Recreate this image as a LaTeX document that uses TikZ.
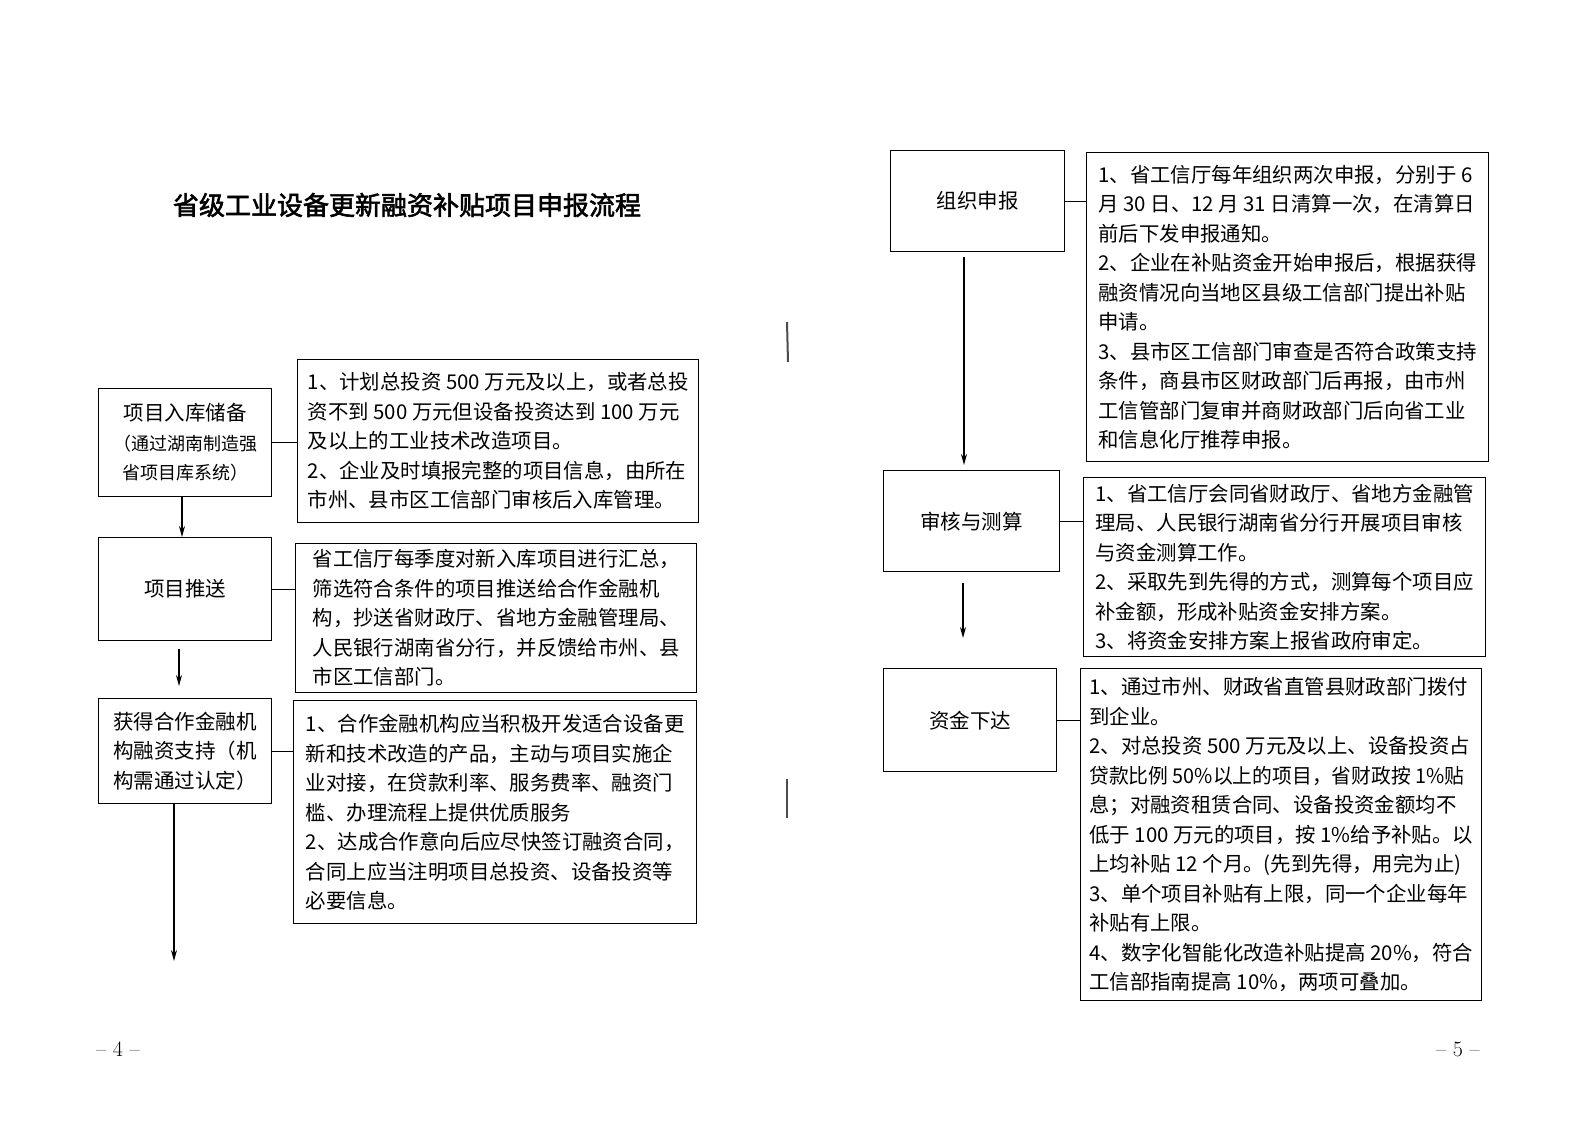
\documentclass[tikz,border=0pt]{standalone}
\usepackage{fontspec}
\newfontfamily\cjk{Noto Sans CJK SC}
\newfontfamily\cjkb[FakeBold=2.2]{Noto Sans CJK SC}
\usetikzlibrary{arrows.meta,calc}
\begin{document}
\begin{tikzpicture}[x=1pt,y=-1pt,
  stage/.style={draw, line width=1.4pt, inner sep=0pt, anchor=north west, align=center,
    font=\cjk\fontsize{20.5}{29.5}\selectfont},
  info/.style={draw, line width=1.4pt, inner sep=0pt, anchor=north west, align=left,
    font=\cjk\fontsize{20.4}{29.5}\selectfont},
  link/.style={line width=1.4pt},
  flow/.style={line width=1.4pt, -{Stealth[length=11pt,width=6pt]}},
  pagenum/.style={font=\fontsize{22}{24}\selectfont},
  scanmark/.style={line width=2pt, black!70}]
\fill[white] (0,0) rectangle (1587,1122);
\useasboundingbox (0,0) rectangle (1587,1122);

% title
\node[font=\cjkb\fontsize{26}{30}\selectfont] (title) at (407,205) {省级工业设备更新融资补贴项目申报流程};

% left column
\node[stage, minimum width=173pt, minimum height=108pt] (A) at (98,388)
  {项目入库储备\\{\fontsize{18}{29.5}\selectfont（通过湖南制造强}\\{\fontsize{18}{29.5}\selectfont 省项目库系统）}};
\node[info, minimum width=401pt, minimum height=163pt] (TA) at (297,359)
  {1、计划总投资 500 万元及以上，或者总投\\
   资不到 500 万元但设备投资达到 100 万元\\
   及以上的工业技术改造项目。\\
   2、企业及时填报完整的项目信息，由所在\\
   市州、县市区工信部门审核后入库管理。};
\node[stage, minimum width=173pt, minimum height=103pt] (B) at (98,537) {项目推送};
\node[info, minimum width=401pt, minimum height=149pt] (TB) at (295,543)
  {省工信厅每季度对新入库项目进行汇总，\\
   筛选符合条件的项目推送给合作金融机\\
   构，抄送省财政厅、省地方金融管理局、\\
   人民银行湖南省分行，并反馈给市州、县\\
   市区工信部门。};
\node[stage, minimum width=173pt, minimum height=105pt] (C) at (98,698)
  {获得合作金融机\\构融资支持（机\\构需通过认定）};
\node[info, minimum width=403pt, minimum height=223pt] (TC) at (293,700)
  {1、合作金融机构应当积极开发适合设备更\\
   新和技术改造的产品，主动与项目实施企\\
   业对接，在贷款利率、服务费率、融资门\\
   槛、办理流程上提供优质服务\\
   2、达成合作意向后应尽快签订融资合同，\\
   合同上应当注明项目总投资、设备投资等\\
   必要信息。};
\coordinate (Cend) at (174,961);

% right column
\node[stage, minimum width=174pt, minimum height=101pt] (D) at (890,150) {组织申报};
\node[info, minimum width=402pt, minimum height=309pt] (TD) at (1086,152)
  {1、省工信厅每年组织两次申报，分别于 6\\
   月 30 日、12 月 31 日清算一次，在清算日\\
   前后下发申报通知。\\
   2、企业在补贴资金开始申报后，根据获得\\
   融资情况向当地区县级工信部门提出补贴\\
   申请。\\
   3、县市区工信部门审查是否符合政策支持\\
   条件，商县市区财政部门后再报，由市州\\
   工信管部门复审并商财政部门后向省工业\\
   和信息化厅推荐申报。};
\node[stage, minimum width=176pt, minimum height=101pt] (E) at (883,470) {审核与测算};
\node[info, minimum width=402pt, minimum height=179pt] (TE) at (1083,477)
  {1、省工信厅会同省财政厅、省地方金融管\\
   理局、人民银行湖南省分行开展项目审核\\
   与资金测算工作。\\
   2、采取先到先得的方式，测算每个项目应\\
   补金额，形成补贴资金安排方案。\\
   3、将资金安排方案上报省政府审定。};
\node[stage, minimum width=173pt, minimum height=103pt] (F) at (883,668) {资金下达};
\node[info, minimum width=401pt, minimum height=332pt] (TF) at (1080,668)
  {1、通过市州、财政省直管县财政部门拨付\\
   到企业。\\
   2、对总投资 500 万元及以上、设备投资占\\
   \scalebox{0.97}[1]{贷款比例 50\%以上的项目，省财政按 1\%贴}\\
   息；对融资租赁合同、设备投资金额均不\\
   低于 100 万元的项目，按 1\%给予补贴。以\\
   上均补贴 12 个月。(先到先得，用完为止)\\
   3、单个项目补贴有上限，同一个企业每年\\
   补贴有上限。\\
   4、数字化智能化改造补贴提高 20\%，符合\\
   工信部指南提高 10\%，两项可叠加。};

% links
\draw[link] (A.east) -- (A.east -| TA.west);
\draw[link] (B.east) -- (B.east -| TB.west);
\draw[link] (C.east) -- (C.east -| TC.west);
\draw[link] (D.east) -- (D.east -| TD.west);
\draw[link] (E.east) -- (E.east -| TE.west);
\draw[link] (F.east) -- (F.east -| TF.west);

% flow arrows
\draw[flow] (A.south -| 182,0) -- (B.north -| 182,0);
\draw[flow] ($(B.south -| 179,0)+(0,8)$) -- ($(C.north -| 179,0)+(0,-12)$);
\draw[flow] (C.south -| Cend) -- (Cend);
\draw[flow] ($(D.south -| 964,0)+(0,5)$) -- ($(E.north -| 964,0)+(0,-5)$);
\draw[flow] ($(E.south -| 963,0)+(0,11)$) -- ($(F.north -| 963,0)+(0,-30)$);

% page numbers
\node[pagenum] (p4) at (118,1049) {– 4 –};
\node[pagenum] (p5) at (1458,1049) {– 5 –};

% scan marks
\draw[scanmark] (787,322) -- (788,362);
\draw[scanmark] (787,779) -- (787,818);
\end{tikzpicture}
\end{document}
